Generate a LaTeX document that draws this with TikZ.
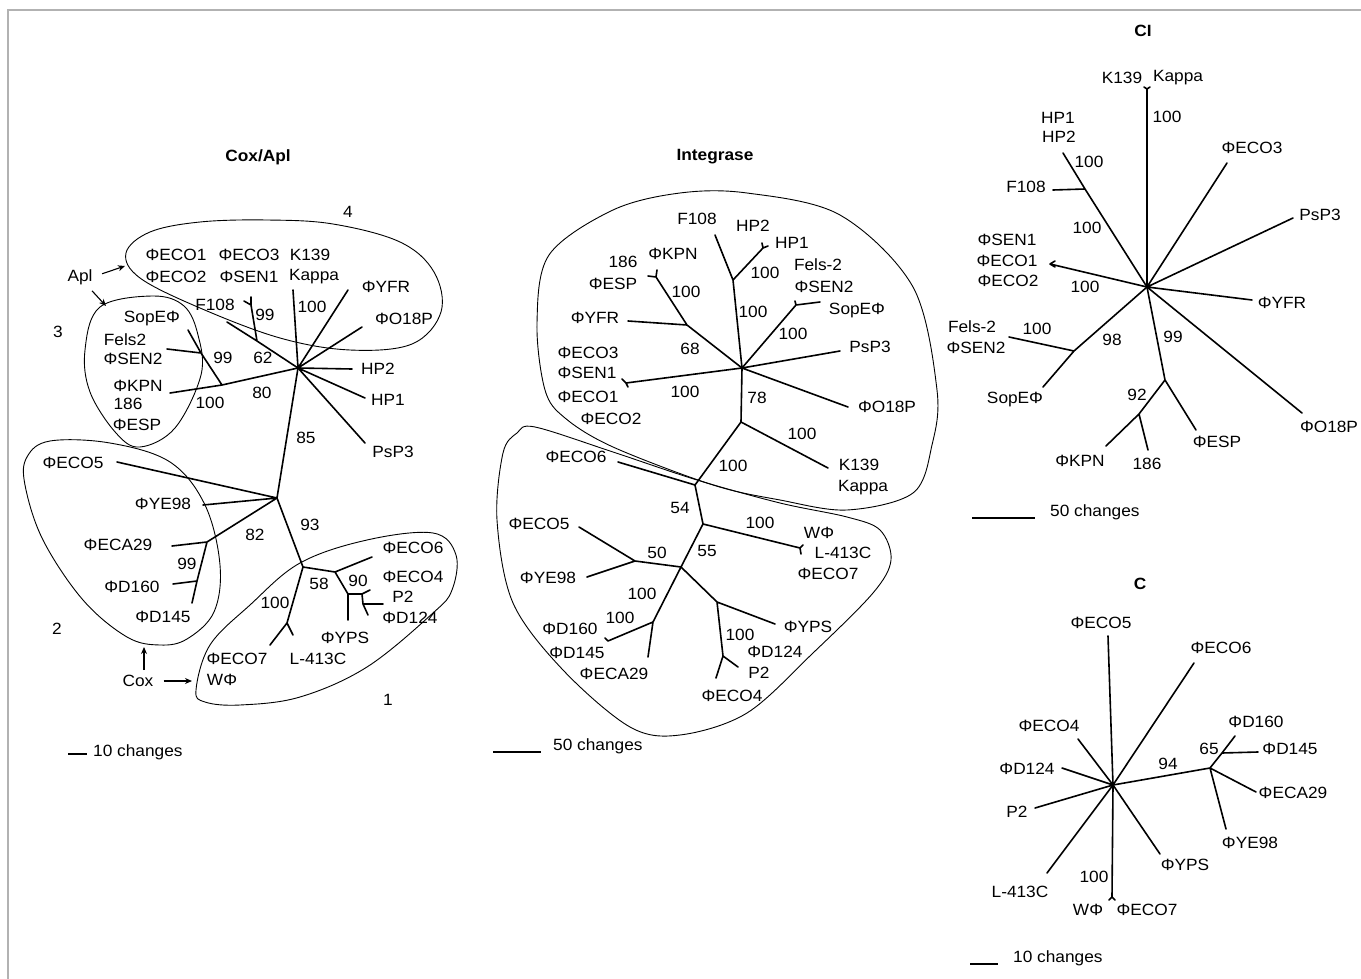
\documentclass[tikz,border=0pt]{standalone}
\usepackage{fontspec}
\setmainfont{Liberation Sans}[FakeStretch=1.06]
\usetikzlibrary{arrows.meta}

\tikzset{
  branch/.style={line width=1.6pt,line cap=round,line join=round},
  clade/.style={line width=0.9pt},
  pointer/.style={line width=1.1pt,-{Stealth[length=7pt,width=6pt]}},
  taxon/.style={inner sep=0pt,font=\fontsize{16.3}{19}\selectfont},
  heading/.style={inner sep=0pt,font=\fontsize{16.3}{19}\selectfont\bfseries},
}

\begin{document}
\begin{tikzpicture}[x=1pt,y=-1pt]
\useasboundingbox (0,0) rectangle (1361,979);
\draw[gray!60,line width=1.5pt] (1361,10) -- (8,10) -- (8,979);

% ---------------- Cox/Apl ----------------
\node[heading] (coxTitle) at (258,157) {Cox/Apl};

\draw[clade] plot[smooth cycle,tension=0.6] coordinates {(126,253) (150,232) (200,222) (267,220) (333,224) (400,242) (434,272) (441,312) (412,344) (350,350) (280,338) (200,308) (140,278)};
\draw[clade] plot[smooth cycle,tension=0.6] coordinates {(100,307) (153,296) (184,306) (198,335) (201,375) (175,428) (140,447) (116,433) (90,392) (85,350)};
\draw[clade] plot[smooth cycle,tension=0.6] coordinates {(27,457) (50,441) (110,443) (170,462) (205,505) (220,565) (214,612) (187,639) (160,645) (127,637) (83,600) (43,540) (25,485)};
\draw[clade] plot[smooth cycle,tension=0.6] coordinates {(196,690) (210,645) (250,605) (300,563) (367,540) (433,533) (456,555) (452,590) (433,613) (367,667) (300,697) (240,705) (205,702)};

\coordinate (cxA) at (298,368);
\coordinate (cxB) at (222,385);
\coordinate (cxBf) at (201,353);
\coordinate (cxC) at (277,498);
\coordinate (cxD) at (207,542);
\coordinate (cxDf) at (197,581);
\coordinate (cxE) at (303,567);
\coordinate (cxF) at (335,572);
\coordinate (cxG) at (348,594);
\coordinate (cxH) at (362,594);
\coordinate (cxI) at (363,604);
\coordinate (cxJ) at (287,623);
\coordinate (cxK) at (257,341);
\coordinate (cxKf) at (251,305);
\foreach \n/\x/\y in {K139/293/290, YFR/348/290, O18P/362/327, HP2/352/369, HP1/365/398,
  PsP3/365/443, F108/227/322, ECO3/251/297, ECO1/244/301, KPN/170/393, SopE/188/330,
  Fels/167/349, ECO5/117/462, YE98/203/505, ECA29/172/546, D145/192/603, D160/173/584,
  ECO6/372/557, YPS/348/620, ECO4/370/590, D124/368/615, P2/383/604, ECO7/270/645, L413/293/635}
  \coordinate (cxt\n) at (\x,\y);

\draw[branch] (cxA) -- (cxtK139) (cxA) -- (cxtYFR) (cxA) -- (cxtO18P)
  (cxA) -- (cxtHP2) (cxA) -- (cxtHP1) (cxA) -- (cxtPsP3);
\draw[branch] (cxA) -- (cxK) -- (cxtF108) (cxK) -- (cxKf) -- (cxtECO3) (cxKf) -- (cxtECO1);
\draw[branch] (cxA) -- (cxB) -- (cxtKPN) (cxB) -- (cxBf) -- (cxtSopE) (cxBf) -- (cxtFels);
\draw[branch] (cxA) -- (cxC) -- (cxtECO5) (cxC) -- (cxtYE98)
  (cxC) -- (cxD) -- (cxtECA29) (cxD) -- (cxDf) -- (cxtD145) (cxDf) -- (cxtD160);
\draw[branch] (cxC) -- (cxE) -- (cxF) -- (cxtECO6) (cxF) -- (cxG) -- (cxtYPS)
  (cxG) -- (cxH) -- (cxtECO4) (cxH) -- (cxI) -- (cxtD124) (cxI) -- (cxtP2);
\draw[branch] (cxE) -- (cxJ) -- (cxtECO7) (cxJ) -- (cxtL413);

\foreach \x/\y/\t [count=\i] in {176/255/ΦECO1, 176/277/ΦECO2, 249/255/ΦECO3, 249/277/ΦSEN1,
  310/255/K139, 314/277/Kappa, 386/287/ΦYFR, 404/319/ΦO18P, 378/369/HP2, 388/400/HP1,
  393/452/PsP3, 215/305/F108, 152/318/SopEΦ, 125/340/Fels2, 133/359/ΦSEN2, 138/386/ΦKPN,
  128/404/186, 137/425/ΦESP, 73/463/ΦECO5, 163/504/ΦYE98, 118/545/ΦECA29, 132/587/ΦD160,
  163/617/ΦD145, 413/548/ΦECO6, 413/577/ΦECO4, 403/597/P2, 410/618/ΦD124, 345/638/ΦYPS,
  318/659/L-413C, 237/659/ΦECO7, 222/680/WΦ}
  \node[taxon] (cxTaxon\i) at (\x,\y) {\t};

\foreach \x/\y/\t [count=\i] in {265/315/99, 263/358/62, 312/307/100, 223/358/99, 210/403/100,
  262/393/80, 306/438/85, 255/535/82, 187/564/99, 310/525/93, 319/584/58, 358/581/90, 275/603/100,
  348/212/4, 58/332/3, 57/629/2, 388/700/1}
  \node[taxon] (cxBoot\i) at (\x,\y) {\t};

\node[taxon] (apl) at (80,277) {Apl};
\coordinate (aplTo4) at (125,266);
\coordinate (aplTo3) at (106,306);
\draw[pointer,shorten <=10pt] (apl.east) -- (aplTo4);
\draw[pointer] ([xshift=12pt,yshift=-6pt]apl.south) -- (aplTo3);
\node[taxon] (cox) at (138,681) {Cox};
\coordinate (coxTo2) at (144,647);
\coordinate (coxTo1) at (192,681);
\draw[pointer] ([xshift=6pt,yshift=5pt]cox.north) -- (coxTo2);
\draw[pointer] ([xshift=10pt]cox.east) -- (coxTo1);

\coordinate (cxBarL) at (68,754);
\coordinate (cxBarR) at (87,754);
\draw[branch,line cap=butt] (cxBarL) -- (cxBarR);
\node[taxon,anchor=west] (cxBar) at (93,752) {10 changes};

% ---------------- Integrase ----------------
\node[heading] (intTitle) at (715,157) {Integrase};

\draw[clade] plot[smooth cycle,tension=0.55] coordinates {(747,193) (840,215) (913,287) (937,390) (932,445) (913,493) (847,510) (780,500) (713,485) (613,447) (565,418) (545,390) (537,323) (549,255) (613,210) (680,193)};
\draw[clade] plot[smooth cycle,tension=0.55] coordinates {(517,433) (535,427) (613,452) (697,480) (780,503) (847,517) (880,530) (891,560) (873,593) (813,653) (747,713) (680,735) (630,727) (563,670) (513,603) (497,520) (503,453)};

\coordinate (inA) at (742,368);
\coordinate (inL) at (733,280);
\coordinate (inM) at (763,248);
\coordinate (inN) at (796,305);
\coordinate (inO) at (687,325);
\coordinate (inP) at (656,277);
\coordinate (inQ) at (626,383);
\coordinate (inR) at (741,422);
\coordinate (inS) at (695,485);
\coordinate (inT) at (703,524);
\coordinate (inU) at (681,567);
\coordinate (inV) at (635,561);
\coordinate (inW) at (653,622);
\coordinate (inX) at (717,602);
\coordinate (inY) at (723,656);
\coordinate (inWL) at (800,548);
\coordinate (inDD) at (608,641);
\foreach \n/\x/\y in {F108/715/235, HPa/762/243, HPb/768/246, SopE/820/302, Fels/795/301,
  PsP3/840/351, O18P/848/407, YFR/628/321, ESP/648/276, KPN/657/270, SENa/622/379, SENb/628/387,
  K139/828/468, ECO6/618/462, WPa/803/545, WPb/801/554, ECO5/579/527, YE98/587/577,
  D145/605/638, ECA29/648/657, YPS/775/624, P2/738/667, ECO4/716/678}
  \coordinate (int\n) at (\x,\y);

\draw[branch] (inA) -- (inL) -- (intF108) (inL) -- (inM) -- (intHPa) (inM) -- (intHPb);
\draw[branch] (inA) -- (inN) -- (intSopE) (inN) -- (intFels);
\draw[branch] (inA) -- (intPsP3) (inA) -- (intO18P);
\draw[branch] (inA) -- (inO) -- (intYFR) (inO) -- (inP) -- (intESP) (inP) -- (intKPN);
\draw[branch] (inA) -- (inQ) -- (intSENa) (inQ) -- (intSENb);
\draw[branch] (inA) -- (inR) -- (intK139) (inR) -- (inS) -- (intECO6);
\draw[branch] (inS) -- (inT) -- (inWL) -- (intWPa) (inWL) -- (intWPb);
\draw[branch] (inT) -- (inU) -- (inV) -- (intECO5) (inV) -- (intYE98);
\draw[branch] (inU) -- (inW) -- (inDD) -- (intD145) (inW) -- (intECA29);
\draw[branch] (inU) -- (inX) -- (intYPS) (inX) -- (inY) -- (intP2) (inY) -- (intECO4);

\foreach \x/\y/\t [count=\i] in {697/219/F108, 753/226/HP2, 792/243/HP1, 623/262/186, 673/254/ΦKPN,
  613/284/ΦESP, 818/265/Fels-2, 824/287/ΦSEN2, 857/310/SopEΦ, 870/347/PsP3, 887/407/ΦO18P,
  595/318/ΦYFR, 588/353/ΦECO3, 587/373/ΦSEN1, 588/397/ΦECO1, 611/419/ΦECO2, 859/465/K139,
  863/488/Kappa, 576/457/ΦECO6, 539/524/ΦECO5, 548/578/ΦYE98, 570/629/ΦD160, 577/653/ΦD145,
  614/674/ΦECA29, 732/696/ΦECO4, 759/673/P2, 775/652/ΦD124, 808/627/ΦYPS, 819/533/WΦ,
  843/553/L-413C, 828/574/ΦECO7}
  \node[taxon] (intTaxon\i) at (\x,\y) {\t};

\foreach \x/\y/\t [count=\i] in {765/273/100, 753/312/100, 793/334/100, 686/292/100, 690/349/68,
  685/392/100, 757/398/78, 802/434/100, 733/466/100, 680/508/54, 760/523/100, 707/551/55,
  657/553/50, 642/594/100, 620/618/100, 740/635/100}
  \node[taxon] (intBoot\i) at (\x,\y) {\t};

\coordinate (intBarL) at (493,752);
\coordinate (intBarR) at (541,752);
\draw[branch,line cap=butt] (intBarL) -- (intBarR);
\node[taxon,anchor=west] (intBar) at (553,746) {50 changes};

% ---------------- CI ----------------
\node[heading] (ciTitle) at (1143,31) {CI};

\coordinate (ciA) at (1147,287);
\coordinate (ciAA) at (1085,189);
\coordinate (ciAB) at (1074,351);
\coordinate (ciAC) at (1165,380);
\coordinate (ciAD) at (1139,414);
\foreach \n/\x/\y in {K/1147/89, Ka/1144/87, Kb/1150/87, HP/1063/153, F108/1053/190,
  ECO3/1227/163, PsP3/1293/218, SEN/1050/264, SENa/1055/261, SENb/1055/267, YFR/1252/300,
  Fels/1009/337, SopE/1043/387, KPN/1106/446, 186/1148/450, ESP/1196/430, O18P/1302/413}
  \coordinate (cit\n) at (\x,\y);

\draw[branch] (ciA) -- (citK) -- (citKa) (citK) -- (citKb);
\draw[branch] (ciA) -- (ciAA) -- (citHP) (ciAA) -- (citF108);
\draw[branch] (ciA) -- (citECO3) (ciA) -- (citPsP3) (ciA) -- (citYFR) (ciA) -- (citO18P);
\draw[branch] (ciA) -- (citSEN) -- (citSENa) (citSEN) -- (citSENb);
\draw[branch] (ciA) -- (ciAB) -- (citSopE) (ciAB) -- (citFels);
\draw[branch] (ciA) -- (ciAC) -- (citESP) (ciAC) -- (ciAD) -- (citKPN) (ciAD) -- (cit186);

\foreach \x/\y/\t [count=\i] in {1122/78/K139, 1178/78/Kappa, 1058/118/HP1, 1059/137/HP2,
  1026/187/F108, 1252/148/ΦECO3, 1320/215/PsP3, 1007/240/ΦSEN1, 1007/261/ΦECO1, 1008/281/ΦECO2,
  1282/303/ΦYFR, 972/327/Fels-2, 976/348/ΦSEN2, 1015/399/SopEΦ, 1080/461/ΦKPN, 1147/464/186,
  1217/442/ΦESP, 1329/427/ΦO18P}
  \node[taxon] (ciTaxon\i) at (\x,\y) {\t};

\foreach \x/\y/\t [count=\i] in {1167/117/100, 1089/162/100, 1087/228/100, 1085/287/100,
  1037/329/100, 1112/340/98, 1173/337/99, 1137/395/92}
  \node[taxon] (ciBoot\i) at (\x,\y) {\t};

\coordinate (ciBarL) at (972,518);
\coordinate (ciBarR) at (1035,518);
\draw[branch,line cap=butt] (ciBarL) -- (ciBarR);
\node[taxon,anchor=west] (ciBar) at (1050,512) {50 changes};

% ---------------- C ----------------
\node[heading] (cTitle) at (1140,584) {C};

\coordinate (cA) at (1113,785);
\coordinate (cAE) at (1210,768);
\coordinate (cAF) at (1222,753);
\foreach \n/\x/\y in {ECO5/1108/636, ECO6/1194/663, ECO4/1078/739, D124/1062/768, P2/1035/808,
  L413/1047/873, W/1112/897, Wa/1109/900, Wb/1115/900, YPS/1160/854, D160/1235/736,
  D145/1258/752, ECA29/1256/792, YE98/1226/829}
  \coordinate (ct\n) at (\x,\y);

\draw[branch] (cA) -- (ctECO5) (cA) -- (ctECO6) (cA) -- (ctECO4) (cA) -- (ctD124)
  (cA) -- (ctP2) (cA) -- (ctL413) (cA) -- (ctYPS);
\draw[branch] (cA) -- (ctW) -- (ctWa) (ctW) -- (ctWb);
\draw[branch] (cA) -- (cAE) -- (cAF) -- (ctD160) (cAF) -- (ctD145)
  (cAE) -- (ctECA29) (cAE) -- (ctYE98);

\foreach \x/\y/\t [count=\i] in {1101/623/ΦECO5, 1221/648/ΦECO6, 1049/726/ΦECO4, 1027/769/ΦD124,
  1017/812/P2, 1020/892/L-413C, 1088/910/WΦ, 1147/910/ΦECO7, 1185/865/ΦYPS, 1256/722/ΦD160,
  1290/749/ΦD145, 1293/793/ΦECA29, 1250/843/ΦYE98}
  \node[taxon] (cTaxon\i) at (\x,\y) {\t};

\foreach \x/\y/\t [count=\i] in {1094/877/100, 1168/764/94, 1209/749/65}
  \node[taxon] (cBoot\i) at (\x,\y) {\t};

\coordinate (cBarL) at (970,964);
\coordinate (cBarR) at (998,964);
\draw[branch,line cap=butt] (cBarL) -- (cBarR);
\node[taxon,anchor=west] (cBar) at (1013,958) {10 changes};
\end{tikzpicture}
\end{document}
